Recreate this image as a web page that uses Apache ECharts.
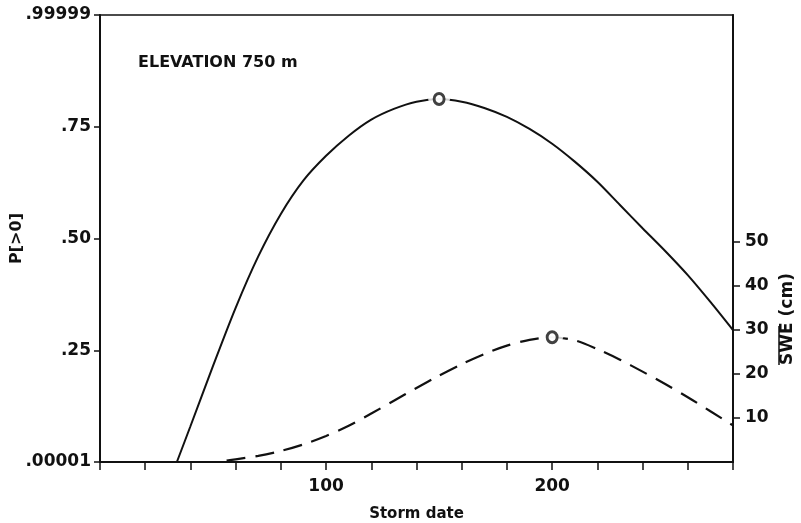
<!DOCTYPE html>
<html>
<head>
<meta charset="utf-8">
<script src="https://cdn.jsdelivr.net/npm/echarts@6/dist/echarts.min.js"></script>
<style>
  html, body { margin: 0; padding: 0; background: #fff; }
  #chart { width: 801px; height: 523px; }
</style>
</head>
<body>
<div id="chart"></div>
<script>
// storm date (day) vs probability of snow on the ground, P[>0]
const pDates = [34, 40, 50, 60, 70, 80, 90, 100, 110, 120, 130, 140, 150, 160, 170, 180, 190, 200, 210, 220, 230, 240, 250, 260, 270, 280];
const pValues = [0, 0.08, 0.215, 0.345, 0.46, 0.555, 0.63, 0.685, 0.73, 0.766, 0.79, 0.806, 0.812, 0.806, 0.792, 0.772, 0.745, 0.712, 0.672, 0.627, 0.575, 0.523, 0.472, 0.418, 0.358, 0.295];

// storm date vs mean SWE (cm)
const sweDates = [56, 60, 70, 80, 90, 100, 110, 120, 130, 140, 150, 160, 170, 180, 190, 200, 210, 220, 230, 240, 250, 260, 270, 280];
const sweValues = [0.3, 0.6, 1.4, 2.5, 4.0, 5.9, 8.2, 11.0, 13.9, 16.8, 19.6, 22.2, 24.5, 26.4, 27.7, 28.3, 27.6, 25.6, 23.2, 20.5, 17.7, 14.7, 11.5, 8.3];

// peak markers ("o")
const pPeak = [150, 0.812];
const swePeak = [200, 28.3];

const xLabelValues = [100, 200];
const sweTickValues = [10, 20, 30, 40, 50];

const FONT = 'DejaVu Sans';
const INK = '#111';

const chart = echarts.init(document.getElementById('chart'));

const pData = pDates.map((d, i) => [d, pValues[i]]);
const sweData = sweDates.map((d, i) => [d, sweValues[i]]);

const option = {
  backgroundColor: '#fff',
  animation: false,
  title: {
    text: 'ELEVATION 750 m',
    left: 138,
    top: 55,
    padding: 0,
    textStyle: { fontFamily: FONT, fontSize: 16, fontWeight: 'bold', color: INK }
  },
  grid: {
    left: 100,
    right: 68,
    top: 15,
    bottom: 61,
    outerBoundsMode: 'none',
    containLabel: false,
    show: true,
    borderColor: INK,
    borderWidth: 1.5,
    backgroundColor: 'transparent'
  },
  xAxis: {
    type: 'value',
    min: 0,
    max: 280,
    interval: 20,
    name: 'Storm date',
    nameLocation: 'middle',
    nameGap: 45,
    nameMoveOverlap: false,
    nameTextStyle: { fontFamily: FONT, fontSize: 15, fontWeight: 'bold', color: INK },
    axisLine: { lineStyle: { color: INK, width: 2 } },
    axisTick: { inside: false, length: 8, lineStyle: { color: INK, width: 1.5 } },
    axisLabel: {
      margin: 16,
      fontFamily: FONT, fontSize: 17, fontWeight: 'bold', color: INK,
      formatter: v => (xLabelValues.includes(v) ? String(v) : '')
    },
    splitLine: { show: false }
  },
  yAxis: [
    {
      type: 'value',
      position: 'left',
      min: 0,
      max: 1,
      interval: 0.25,
      name: 'P[>0]',
      nameLocation: 'middle',
      nameGap: 75,
      nameMoveOverlap: false,
      nameTextStyle: { fontFamily: FONT, fontSize: 16, fontWeight: 'bold', color: INK },
      axisLine: { show: true, lineStyle: { color: INK, width: 2 } },
      axisTick: { show: true, inside: false, length: 6, lineStyle: { color: INK, width: 1.5 } },
      axisLabel: {
        margin: 9,
        fontFamily: FONT, fontSize: 17, fontWeight: 'bold', color: INK,
        formatter: v => {
          if (v === 0) return '.00001';
          if (v === 1) return '.99999';
          return '.' + Math.round(v * 100);
        }
      },
      splitLine: { show: false }
    },
    {
      type: 'value',
      position: 'right',
      min: 0,
      max: 101.4,
      axisLine: { show: true, lineStyle: { color: INK, width: 2 } },
      axisTick: { show: true, inside: false, length: 7, customValues: sweTickValues, lineStyle: { color: INK, width: 1.5 } },
      axisLabel: {
        margin: 12,
        fontFamily: FONT, fontSize: 17, fontWeight: 'bold', color: INK,
        customValues: sweTickValues
      },
      splitLine: { show: false }
    }
  ],
  graphic: [
    {
      type: 'group',
      x: 788,
      y: 319,
      rotation: Math.PI / 2,
      children: [
        {
          type: 'text',
          x: 0,
          y: 0,
          style: {
            text: 'SWE (cm)',
            font: 'bold 17px "DejaVu Sans"',
            fill: INK,
            textAlign: 'center',
            textVerticalAlign: 'middle'
          }
        },
        {
          // overline above "SWE"
          type: 'line',
          shape: { x1: -46, y1: -9, x2: -7, y2: -9 },
          style: { stroke: INK, lineWidth: 1.5 }
        }
      ]
    }
  ],
  series: [
    {
      name: 'P[>0]',
      type: 'line',
      yAxisIndex: 0,
      data: pData,
      smooth: 0.3,
      showSymbol: false,
      lineStyle: { color: INK, width: 2 },
      z: 2
    },
    {
      name: 'SWE',
      type: 'line',
      yAxisIndex: 1,
      data: sweData,
      smooth: 0.3,
      showSymbol: false,
      lineStyle: { color: INK, width: 2.2, type: [19, 10] },
      z: 2
    },
    {
      // white gap around the peak markers
      type: 'scatter',
      yAxisIndex: 0,
      data: [pPeak],
      symbol: 'circle',
      symbolSize: [22, 14],
      itemStyle: { color: '#fff' },
      silent: true,
      z: 3
    },
    {
      type: 'scatter',
      yAxisIndex: 1,
      data: [swePeak],
      symbol: 'circle',
      symbolSize: [22, 14],
      itemStyle: { color: '#fff' },
      silent: true,
      z: 3
    },
    {
      type: 'scatter',
      yAxisIndex: 0,
      data: [pPeak],
      symbol: 'circle',
      symbolSize: [10, 11],
      itemStyle: { color: '#fff', borderColor: INK, borderWidth: 3 },
      z: 4
    },
    {
      type: 'scatter',
      yAxisIndex: 1,
      data: [swePeak],
      symbol: 'circle',
      symbolSize: [10, 11],
      itemStyle: { color: '#fff', borderColor: INK, borderWidth: 3 },
      z: 4
    }
  ]
};

chart.setOption(option);
window.addEventListener('resize', () => chart.resize());
</script>
</body>
</html>
